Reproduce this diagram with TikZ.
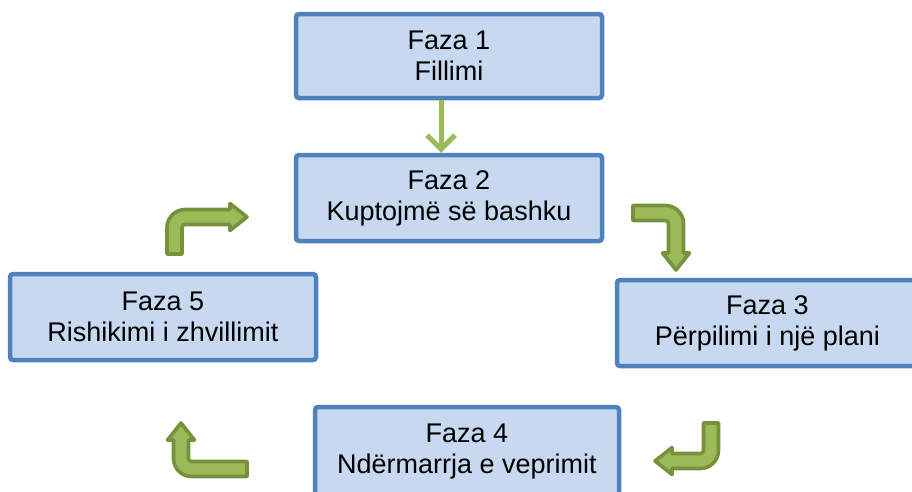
\documentclass[tikz,border=0pt]{standalone}
\usepackage{fontspec}
\setmainfont{Liberation Sans}
\usetikzlibrary{arrows.meta}
\definecolor{boxfill}{HTML}{C6D9F1}
\definecolor{boxline}{HTML}{4F81BD}
\definecolor{arrfill}{HTML}{9BBB59}
\definecolor{arrline}{HTML}{76923C}
\newcommand\bentarr[9]{%
  \foreach \n/\px/\py in {p1/-7.5/#8, p2/-7.5/10.5, c1/-7.5/0.6, c2/0.6/-7.5, p3/10.5/-7.5,
      p4/#9-17/-7.5, p5/#9-17/-13.5, p6/#9/0, p7/#9-17/13.5, p8/#9-17/7.5,
      p9/10.5/7.5, c3/8.85/7.5, c4/7.5/8.85, p10/7.5/10.5, p11/7.5/#8}
    \coordinate (#1\n) at ({#2+(\px)*(#6)-(\py)*(#4)},{#3+(\px)*(#7)-(\py)*(#5)});
  \draw[bentarrow] (#1p1) -- (#1p2) .. controls (#1c1) and (#1c2) .. (#1p3) -- (#1p4) -- (#1p5)
    -- (#1p6) -- (#1p7) -- (#1p8) -- (#1p9) .. controls (#1c3) and (#1c4) .. (#1p10) -- (#1p11) -- cycle;
}
\begin{document}
\begin{tikzpicture}[x=1pt,y=-1pt,
  phase/.style={draw=boxline, fill=boxfill, line width=4.5pt, rounded corners=3pt,
    align=center, font=\fontsize{27}{31}\selectfont, inner sep=0pt},
  bentarrow/.style={draw=arrline, fill=arrfill, line width=3.6pt, line join=round},
  downarrow/.style={draw=arrfill, line width=5pt, -{Straight Barb[length=14pt,width=28pt]}}]
\useasboundingbox (0,0) rectangle (912,491);
\clip (0,0) rectangle (912,491);
\fill[white] (0,0) rectangle (912,491);
\node[phase, minimum width=306pt, minimum height=84pt] (f1) at (449,56) {Faza 1\\Fillimi};
\node[phase, minimum width=306pt, minimum height=86pt] (f2) at (449,198) {Faza 2\\Kuptojmë së bashku};
\node[phase, minimum width=306pt, minimum height=86pt] (f5) at (163,317) {Faza 5\\Rishikimi i zhvillimit};
\node[phase, minimum width=301pt, minimum height=86pt] (f3) at (767.5,323) {Faza 3\\Përpilimi i një plani};
\node[phase, minimum width=304pt, minimum height=90pt] (f4) at (467,452) {Faza 4\\Ndërmarrja e veprimit};
\draw[downarrow] ([xshift=-8pt]f1.south) -- ([xshift=-8pt]f2.north);
\bentarr{a}{174.5}{217}{0}{-1}{1}{0}{37}{72.5}
\bentarr{b}{676}{213}{1}{0}{0}{1}{43}{57}
\bentarr{c}{711}{461}{0}{1}{-1}{0}{38}{56}
\bentarr{d}{181}{469}{-1}{0}{0}{-1}{66}{46}
\end{tikzpicture}
\end{document}
